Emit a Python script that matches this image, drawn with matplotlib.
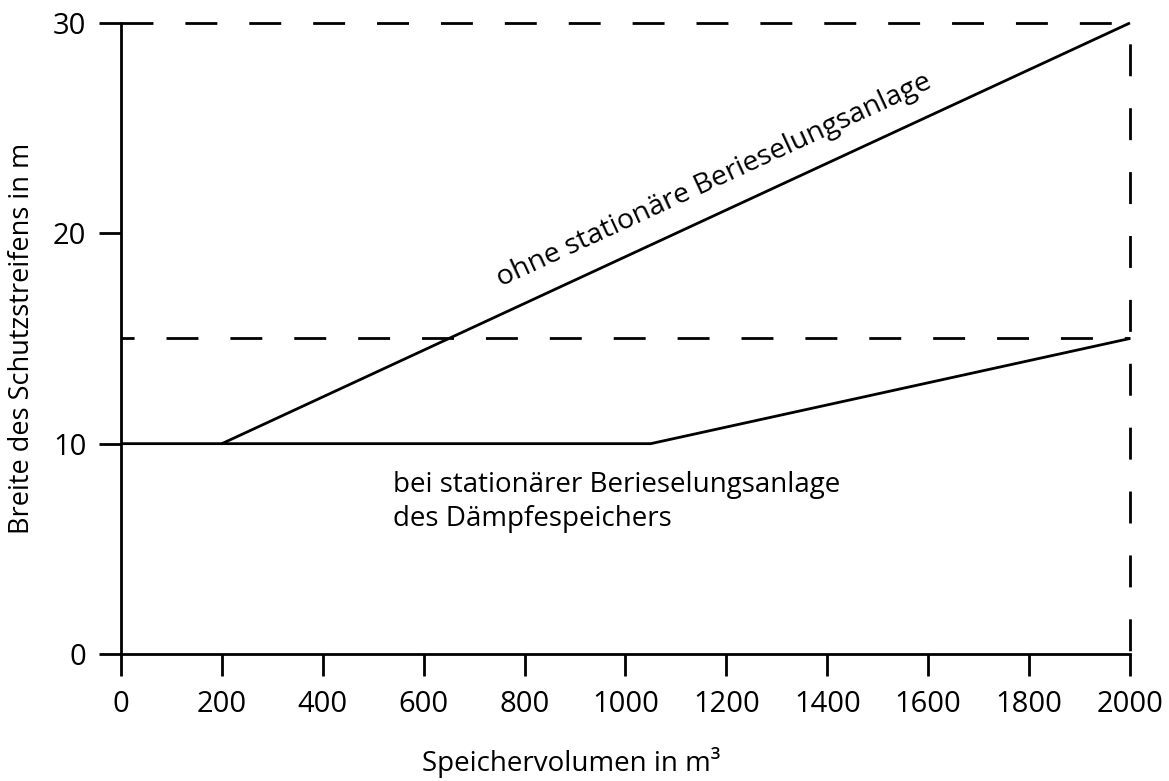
import matplotlib
matplotlib.use('Agg')
import matplotlib.pyplot as plt

# data
volumen_ohne = [200, 2000]
breite_ohne = [10, 30]
volumen_bei = [0, 1050, 2000]
breite_bei = [10, 10, 15]
x_ticks = [0, 200, 400, 600, 800, 1000, 1200, 1400, 1600, 1800, 2000]
y_ticks = [0, 10, 20, 30]

plt.rcParams['font.family'] = ['Open Sans', 'DejaVu Sans']

fig = plt.figure(figsize=(11.69, 7.81), dpi=100)
ax = fig.add_axes([0.1035, 0.1626, 0.8631, 0.808])

lw = 2.0
ax.plot(volumen_ohne, breite_ohne, color='black', lw=lw, solid_capstyle='butt', clip_on=False)
ax.plot(volumen_bei, breite_bei, color='black', lw=lw, solid_capstyle='butt', clip_on=False)

# dashed guide lines (dash and gap about 32 px)
ax.plot([0, 2000], [30, 30], color='black', lw=lw, linestyle=(0, (11.5, 11.5)), clip_on=False)
ax.plot([0, 2000], [15, 15], color='black', lw=lw, linestyle=(6.8, (11.5, 11.5)), clip_on=False)
ax.plot([2000, 2000], [30, 0], color='black', lw=lw, linestyle=(15.5, (11.5, 11.5)), clip_on=False)

ax.set_xlim(0, 2000)
ax.set_ylim(0, 30)
ax.set_xticks(x_ticks)
ax.set_yticks(y_ticks)
ax.spines['top'].set_visible(False)
ax.spines['right'].set_visible(False)
ax.spines['left'].set_linewidth(lw)
ax.spines['bottom'].set_linewidth(lw)
ax.tick_params(axis='x', direction='out', length=16, width=lw, pad=10, labelsize=21)
ax.tick_params(axis='y', direction='out', length=16, width=lw, pad=9, labelsize=21)

ax.set_xlabel('Speichervolumen in m³', fontsize=20, labelpad=20, x=0.446)
ax.set_ylabel('Breite des Schutzstreifens in m', fontsize=19.5, labelpad=12)

ax.text(1175, 22.5, 'ohne stationäre Berieselungsanlage', fontsize=20.5,
        rotation=24.8, rotation_mode='anchor', ha='center', va='center')
ax.text(540, 8.7, 'bei stationärer Berieselungsanlage\ndes Dämpfespeichers',
        fontsize=20, ha='left', va='top', linespacing=1.3)

fig.savefig('out.png', dpi=100)
